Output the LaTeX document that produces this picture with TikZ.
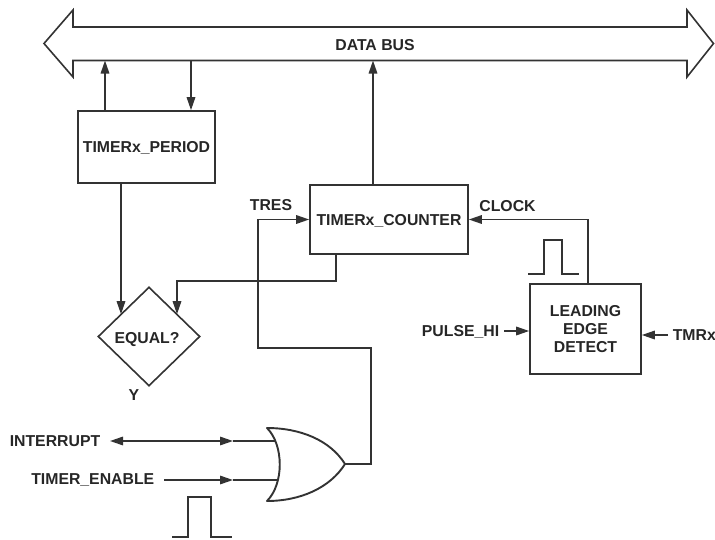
\documentclass[tikz,border=0pt]{standalone}
\usepackage{fontspec}
\setmainfont{Liberation Sans}
\usetikzlibrary{shapes.geometric,arrows.meta}
\definecolor{ln}{HTML}{333333}
\definecolor{tx}{HTML}{262626}
\begin{document}
\begin{tikzpicture}[x=1pt,y=-1pt,color=ln,line width=1.6pt,
  lbl/.style={inner sep=0pt,text=tx,font=\fontsize{15.8}{18}\selectfont\bfseries,text height=11.5pt,text depth=0pt},
  box/.style={lbl,draw=ln,fill=white,rectangle},
  mbox/.style={draw=ln,fill=white,rectangle,inner sep=0pt,align=center,text=tx,font=\fontsize{15.8}{18}\selectfont\bfseries},
  arr/.style={-{Triangle[length=13pt,width=8.5pt]}},
  darr/.style={{Triangle[length=13pt,width=8.5pt]}-{Triangle[length=13pt,width=8.5pt]}}]
\useasboundingbox (0,0) rectangle (715,539);

% data bus
\draw[line join=miter] (44,43.5) -- (73,10) -- (73,27) -- (687,27) -- (687,10) -- (713.5,43.5)
  -- (687,77) -- (687,60.5) -- (73,60.5) -- (73,77) -- cycle;
\node[lbl] (bus) at (375,45) {DATA BUS};
\coordinate (b1) at (105,60.5);
\coordinate (b2) at (191,60.5);
\coordinate (b3) at (373,60.5);

% blocks
\node[box,minimum width=137pt,minimum height=72pt] (period) at (146.5,147) {TIMERx\_PERIOD};
\node[box,minimum width=158pt,minimum height=69pt] (counter) at (389,219.5) {TIMERx\_COUNTER};
\node[mbox,minimum width=111pt,minimum height=90pt] (led) at (585.5,329) {LEADING\\EDGE\\DETECT};
\node[draw=ln,diamond,minimum width=102pt,minimum height=99pt,inner sep=0pt] (eq) at (149,336.5) {};
\node[lbl] (eqt) at (147,338) {EQUAL?};
\node[lbl] (y) at (134,395) {Y};

% labels
\node[lbl] (tres) at (271,205) {TRES};
\node[lbl] (clock) at (507.5,206) {CLOCK};
\node[lbl,anchor=east] (phi) at (500,331) {PULSE\_HI};
\node[lbl,anchor=west] (tmr) at (672,335) {TMRx};
\node[lbl,anchor=east] (intr) at (101,441) {INTERRUPT};
\node[lbl,anchor=east] (ten) at (155,479) {TIMER\_ENABLE};

% OR gate
\coordinate (orA) at (275.2,441);
\coordinate (orB) at (277.7,480);
\coordinate (orOut) at (345,464);
\draw[line width=1.9pt,fill=white,line join=round] (267,428) .. controls (300,428) and (330,440) .. (345,464)
  .. controls (330,488) and (300,501) .. (267,501)
  .. controls (284,484) and (284,445) .. (267,428) -- cycle;

% bus connections
\draw[arr] (period.north -| b1) -- (b1);
\draw[arr] (b2) -- (b2 |- period.north);
\draw[arr] (counter.north -| b3) -- (b3);

% to EQUAL?
\coordinate (eqa) at (121,314.2);
\coordinate (eqb) at (177,314.2);
\coordinate (cbx) at (336,281);
\draw[arr] (period.south -| eqa) -- (eqa);
\draw[arr] (counter.south -| cbx) -- (cbx) -| (eqb);

% TRES path
\coordinate (t1) at (371,348);
\coordinate (t2) at (258,348);
\draw[arr] (orOut) -| (t1) -- (t2) |- (counter.west);

% CLOCK path
\coordinate (ck) at (588,284);
\draw[arr] (led.north -| ck) |- (counter.east);

% LED inputs
\coordinate (phiA) at (504,331);
\draw[arr] (phiA) -- (phiA -| led.west);
\coordinate (tmA) at (668,335);
\draw[arr] (tmA) -- (tmA -| led.east);

% OR inputs
\coordinate (intA) at (110,441);
\coordinate (intM) at (233,441);
\draw[darr] (intA) -- (intM);
\draw (intM) -- (orA);
\coordinate (tenA) at (164,480);
\coordinate (tenM) at (233,480);
\draw[arr] (tenA) -- (tenM);
\draw (tenM) -- (orB);

% pulses
\draw (528,274) -- (544,274) -- (544,240) -- (562,240) -- (562,274) -- (579,274);
\draw (172,537) -- (188,537) -- (188,497) -- (211,497) -- (211,537) -- (232,537);
\end{tikzpicture}
\end{document}
